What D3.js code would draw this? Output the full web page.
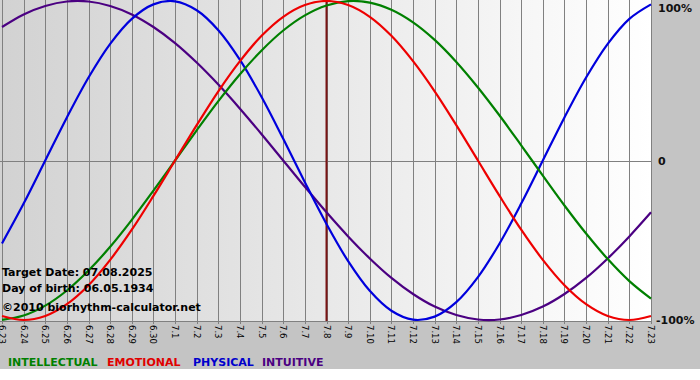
<!DOCTYPE html>
<html><head><meta charset="utf-8">
<script src="https://cdn.jsdelivr.net/npm/d3@7"></script>
<style>html,body{margin:0;padding:0;background:#fff;}svg{display:block;}</style>
</head><body>
<script>
const dates = ["6.23","6.24","6.25","6.26","6.27","6.28","6.29","6.30","7.1","7.2","7.3","7.4","7.5","7.6","7.7","7.8","7.9","7.10","7.11","7.12","7.13","7.14","7.15","7.16","7.17","7.18","7.19","7.20","7.21","7.22","7.23"];
const intellectual = [-0.999,-0.972,-0.910,-0.815,-0.690,-0.541,-0.372,-0.189,0,0.189,0.372,0.541,0.690,0.815,0.910,0.972,0.999,0.990,0.945,0.866,0.756,0.618,0.458,0.282,0.095,-0.095,-0.282,-0.458,-0.618,-0.756,-0.866];
const emotional = [-0.975,-1,-0.975,-0.901,-0.782,-0.623,-0.434,-0.222,0,0.222,0.434,0.623,0.782,0.901,0.975,1,0.975,0.901,0.782,0.623,0.434,0.222,0,-0.222,-0.434,-0.623,-0.782,-0.901,-0.975,-1,-0.975];
const physical = [-0.520,-0.270,0,0.270,0.520,0.731,0.888,0.979,0.998,0.942,0.817,0.631,0.398,0.136,-0.136,-0.398,-0.631,-0.817,-0.942,-0.998,-0.979,-0.888,-0.731,-0.520,-0.270,0,0.270,0.520,0.731,0.888,0.979];
const intuitive = [0.837,0.916,0.969,0.997,0.997,0.969,0.916,0.837,0.736,0.614,0.476,0.325,0.165,0,-0.165,-0.325,-0.476,-0.614,-0.736,-0.837,-0.916,-0.969,-0.997,-0.997,-0.969,-0.916,-0.837,-0.736,-0.614,-0.476,-0.325];
const seriesNames = ["INTELLECTUAL","EMOTIONAL","PHYSICAL","INTUITIVE"];
const yTicks = [1,0,-1];
const yTickLabels = ["100%","0","-100%"];
const targetDate = "7.8";
const infoLines = ["Target Date: 07.08.2025","Day of birth: 06.05.1934","©2010 biorhythm-calculator.net"];

const W = 700, H = 380;
const colors = ["#008000","#ee0000","#0000dd","#4b0082"];
const legendColors = ["#008000","#e00000","#0000cc","#4b0082"];
const font = "'DejaVu Sans', Verdana, sans-serif";

const svg = d3.select("body").append("svg").attr("width", W).attr("height", H);
const defs = svg.append("defs");
const grad = defs.append("linearGradient").attr("id","bg").attr("x1","0").attr("x2","1").attr("y1","0").attr("y2","0");
grad.append("stop").attr("offset","0").attr("stop-color","#d2d2d2");
grad.append("stop").attr("offset","1").attr("stop-color","#ffffff");
defs.append("clipPath").attr("id","clip").append("rect").attr("x",0).attr("y",0).attr("width",652).attr("height",322);

svg.append("rect").attr("width",W).attr("height",369).attr("fill","#c4c4c4");

const x = d3.scaleLinear().domain([0, dates.length-1]).range([2, 651]);
const y = d3.scaleLinear().domain([-1, 1]).range([320, 1]);

svg.append("rect").attr("x",0).attr("y",0).attr("width",651).attr("height",321).attr("fill","url(#bg)");

// vertical grid
const g = svg.append("g");
g.selectAll("line.v").data(dates).join("line")
  .attr("x1",(d,i)=>Math.round(x(i))+0.5).attr("x2",(d,i)=>Math.round(x(i))+0.5)
  .attr("y1",0).attr("y2",324).attr("stroke","#808080").attr("stroke-width",1);
// horizontal lines
g.append("line").attr("x1",0).attr("x2",651).attr("y1",Math.round(y(0))+0.5).attr("y2",Math.round(y(0))+0.5).attr("stroke","#808080");
g.append("line").attr("x1",0).attr("x2",652).attr("y1",321.5).attr("y2",321.5).attr("stroke","#808080");

// target line
const ti = dates.indexOf(targetDate);
svg.append("line").attr("x1",x(ti)).attr("x2",x(ti)).attr("y1",0).attr("y2",321)
  .attr("stroke","#7a1414").attr("stroke-width",2);

// curves
const allSeries = [intellectual, emotional, physical, intuitive];
const line = d3.line().x((d,i)=>x(i)).y(d=>y(d)).curve(d3.curveCatmullRom.alpha(0.5));
const cg = svg.append("g").attr("clip-path","url(#clip)");
[3,2,0,1].forEach(k=>{
  cg.append("path").attr("d", line(allSeries[k])).attr("fill","none")
    .attr("stroke", colors[k]).attr("stroke-width",2.2);
});

// x labels
svg.append("g").selectAll("text").data(dates).join("text")
  .attr("transform",(d,i)=>`translate(${x(i)},325) rotate(90)`)
  .attr("dy","0.35em").attr("font-family",font).attr("font-size","8.5px").attr("fill","#000")
  .text(d=>d);

// y labels
svg.append("g").selectAll("text").data(yTicks).join("text")
  .attr("x",(d,i)=> i===2 ? 656 : 658).attr("y",d=>Math.max(y(d), 8)).attr("dy","0.38em")
  .attr("font-family",font).attr("font-size","11px").attr("font-weight","bold").attr("fill","#111")
  .text((d,i)=>yTickLabels[i]);

// info text
svg.append("g").selectAll("text").data(infoLines).join("text")
  .attr("x",2).attr("y",(d,i)=>[276,292,311][i])
  .attr("font-family",font).attr("font-size","11px").attr("font-weight","bold").attr("fill","#000")
  .text(d=>d);

// legend
const lx = [8,107,193,262];
svg.append("g").selectAll("text").data(seriesNames).join("text")
  .attr("x",(d,i)=>lx[i]).attr("y",366)
  .attr("font-family",font).attr("font-size","11px").attr("font-weight","bold")
  .attr("fill",(d,i)=>legendColors[i]).text(d=>d);
</script>
</body></html>
